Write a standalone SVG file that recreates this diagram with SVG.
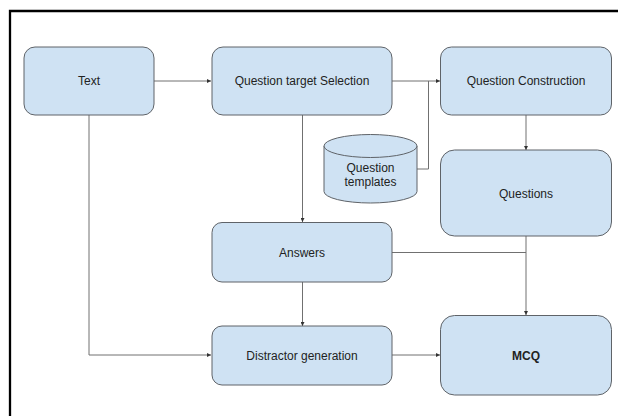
<svg xmlns="http://www.w3.org/2000/svg" width="618" height="416" viewBox="0 0 618 416">
  <style>
    .node { fill: #cfe2f3; stroke: #5f6368; stroke-width: 1; }
    .lbl { font-family: "Liberation Sans", Arial, sans-serif; font-size: 12px; fill: #222; text-anchor: middle; dominant-baseline: central; }
    .bold { font-weight: bold; }
    .edge { fill: none; stroke: #707070; stroke-width: 1; }
  </style>
  <defs>
    <marker id="arrow" viewBox="0 0 6 6" refX="6" refY="3" markerWidth="4" markerHeight="4" orient="auto" markerUnits="userSpaceOnUse">
      <path d="M0,0 L6,3 L0,6 Z" fill="#333"/>
    </marker>
  </defs>
  <rect width="618" height="416" fill="#ffffff"/>
  <!-- frame -->
  <path d="M10,416 V11 H618" fill="none" stroke="#000" stroke-width="2.3"/>

  <g id="connectors">
    <path class="edge" d="M154,81 H211" marker-end="url(#arrow)"/>
    <path class="edge" d="M392,81 H440" marker-end="url(#arrow)"/>
    <path class="edge" d="M417,169 H428.5 V81"/>
    <path class="edge" d="M526,115 V150" marker-end="url(#arrow)"/>
    <path class="edge" d="M302.5,115 V222" marker-end="url(#arrow)"/>
    <path class="edge" d="M302.5,282 V326" marker-end="url(#arrow)"/>
    <path class="edge" d="M89,115 V355 H211" marker-end="url(#arrow)"/>
    <path class="edge" d="M392,252.5 H526"/>
    <path class="edge" d="M526,236 V315" marker-end="url(#arrow)"/>
    <path class="edge" d="M392,355 H440" marker-end="url(#arrow)"/>
  </g>

  <g id="text">
    <rect class="node" x="24" y="47" width="130" height="68" rx="11"/>
    <text class="lbl" x="89" y="81">Text</text>
  </g>
  <g id="question-target-selection">
    <rect class="node" x="212" y="47" width="180" height="68" rx="11"/>
    <text class="lbl" x="302" y="81">Question target Selection</text>
  </g>
  <g id="question-construction">
    <rect class="node" x="440.5" y="47" width="171" height="68" rx="11"/>
    <text class="lbl" x="526" y="81">Question Construction</text>
  </g>
  <g id="question-templates">
    <path class="node" d="M324,146 V191.5 A46.5,11.5 0 0 0 417,191.5 V146 A46.5,11.5 0 0 0 324,146 Z"/>
    <path class="node" d="M324,146 A46.5,11.5 0 0 0 417,146" fill="none"/>
    <text class="lbl" x="370.5" y="168">Question</text>
    <text class="lbl" x="370.5" y="182">templates</text>
  </g>
  <g id="questions">
    <rect class="node" x="440.5" y="150" width="171" height="86" rx="14"/>
    <text class="lbl" x="526" y="194">Questions</text>
  </g>
  <g id="answers">
    <rect class="node" x="212" y="222.5" width="180" height="59.5" rx="10"/>
    <text class="lbl" x="302" y="252.5">Answers</text>
  </g>
  <g id="distractor-generation">
    <rect class="node" x="212" y="326" width="180" height="59" rx="10"/>
    <text class="lbl" x="302" y="355.5">Distractor generation</text>
  </g>
  <g id="mcq">
    <rect class="node" x="440.5" y="315.5" width="171" height="79.5" rx="14"/>
    <text class="lbl bold" x="526" y="355.5">MCQ</text>
  </g>
</svg>
